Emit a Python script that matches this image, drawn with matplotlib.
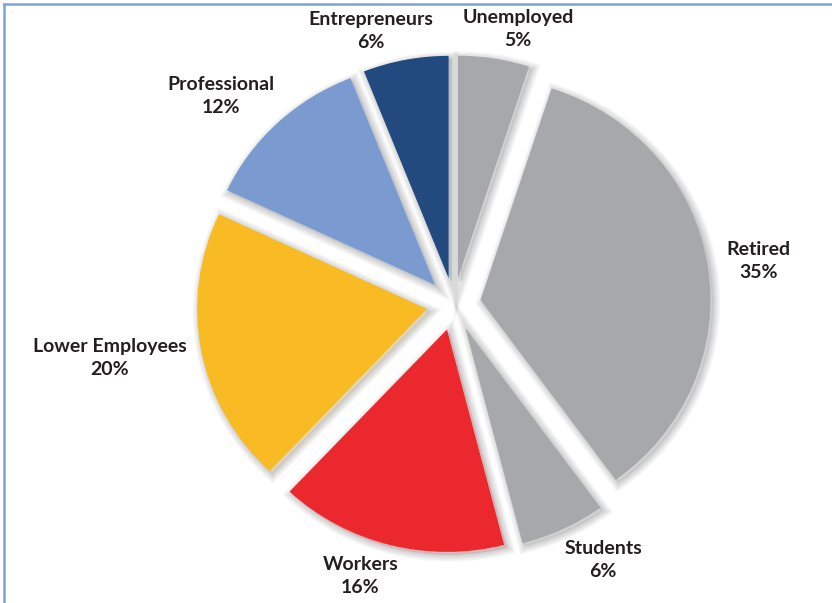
import matplotlib
matplotlib.use("Agg")
import matplotlib.pyplot as plt
import matplotlib.patheffects as pe
from matplotlib.lines import Line2D

# data, clockwise from 12 o'clock
categories = ["Unemployed", "Retired", "Students", "Workers",
              "Lower Employees", "Professional", "Entrepreneurs"]
shares = [5, 35, 6, 16, 20, 12, 6]
colors = ["#A7A8AC", "#A7A8AC", "#A7A8AC", "#EC282F",
          "#F9BB24", "#7B9BD0", "#234A7F"]

# label spots in figure fractions (layout only)
label_pos = [(0.623, 0.952), (0.912, 0.567), (0.725, 0.071), (0.433, 0.045),
             (0.132, 0.406), (0.266, 0.841), (0.446, 0.949)]

fig = plt.figure(figsize=(8.32, 6.03), dpi=100)
ax = fig.add_axes([0, 0, 1, 1])

shadow = [pe.Stroke(linewidth=w, foreground="black", alpha=0.035, offset=(2, -2))
          for w in (10, 8, 6, 4, 2)] + [pe.Normal()]

wedges, _ = ax.pie(shares, colors=colors, startangle=90, counterclock=False,
                   explode=[0.118] * len(shares), radius=1,
                   wedgeprops=dict(linewidth=0))
for w in wedges:
    w.set_path_effects(shadow)

# the picture is slightly wider than tall
ax.set_aspect("auto")
ax.set_xlim(-1.973, 1.645)
ax.set_ylim(-1.344, 1.367)
ax.axis("off")

for name, val, (x, y) in zip(categories, shares, label_pos):
    fig.text(x, y, f"{name}\n{val}%", ha="center", va="center",
             fontsize=14, fontweight="bold", family="Lato",
             color="#231F20", linespacing=1.45)

# thin blue frame, only top and left visible
fig.add_artist(Line2D([0.005, 1.0], [0.993, 0.993], color="#7EA1D9", lw=1.8,
                      transform=fig.transFigure))
fig.add_artist(Line2D([0.005, 0.005], [0.0, 0.993], color="#7EA1D9", lw=1.8,
                      transform=fig.transFigure))

fig.savefig("out.png", dpi=100, facecolor="white")
